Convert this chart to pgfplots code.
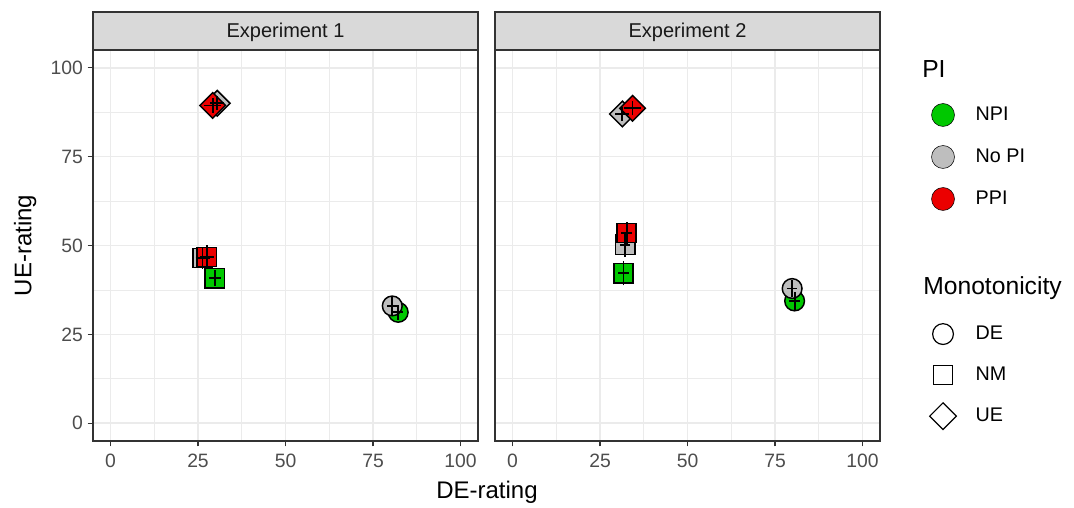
\documentclass[border=0pt]{standalone}
\usepackage{pgfplots}
\pgfplotsset{compat=1.18}
\usepackage{fontspec}
\setmainfont{Liberation Sans}
\definecolor{cNPI}{RGB}{0,200,0}
\definecolor{cNo}{RGB}{190,190,190}
\definecolor{cPPI}{RGB}{235,0,0}
\definecolor{grid92}{RGB}{235,235,235}
\definecolor{g20}{RGB}{51,51,51}
\definecolor{g30}{RGB}{77,77,77}
\definecolor{g85}{RGB}{217,217,217}

\pgfdeclareplotmark{rdiamond*}{%
  \pgfpathmoveto{\pgfqpoint{0pt}{\pgfplotmarksize}}%
  \pgfpathlineto{\pgfqpoint{\pgfplotmarksize}{0pt}}%
  \pgfpathlineto{\pgfqpoint{0pt}{-\pgfplotmarksize}}%
  \pgfpathlineto{\pgfqpoint{-\pgfplotmarksize}{0pt}}%
  \pgfpathclose\pgfusepathqfillstroke}
\pgfdeclareplotmark{rdiamond}{%
  \pgfpathmoveto{\pgfqpoint{0pt}{\pgfplotmarksize}}%
  \pgfpathlineto{\pgfqpoint{\pgfplotmarksize}{0pt}}%
  \pgfpathlineto{\pgfqpoint{0pt}{-\pgfplotmarksize}}%
  \pgfpathlineto{\pgfqpoint{-\pgfplotmarksize}{0pt}}%
  \pgfpathclose\pgfusepathqstroke}

\pgfplotsset{
  panel/.style={
    anchor=south west, scale only axis, width=288.75pt, height=293.25pt,
    xmin=-5, xmax=105, ymin=-5, ymax=105,
    xtick={0,25,50,75,100}, ytick={0,25,50,75,100},
    minor xtick={12.5,37.5,62.5,87.5}, minor ytick={12.5,37.5,62.5,87.5},
    grid=both,
    major grid style={draw=grid92, line width=1.1pt},
    minor grid style={draw=grid92, line width=0.55pt},
    axis line style={draw=g20, line width=0.8pt},
    tick align=outside, xtick pos=bottom, ytick pos=left,
    major tick length=4pt, minor tick length=0pt,
    tick style={draw=g20, line width=0.8pt},
    ticklabel style={font=\fontsize{14.5}{17}\selectfont, text=g30},
    xticklabel style={yshift=-2.5pt},
    /pgf/number format/assume math mode=true,
    unbounded coords=jump,
    clip marker paths=true,
  },
  ptDE/.style={only marks, mark=*, mark size=7.4pt, mark options={draw=black, line width=1.1pt, fill=#1}},
  ptNM/.style={only marks, mark=square*, mark size=7.2pt, mark options={draw=black, line width=1.1pt, fill=#1}},
  ptUE/.style={only marks, mark=rdiamond*, mark size=9.6pt, mark options={draw=black, line width=1.1pt, fill=#1}},
  cross/.style={black, line width=1.4pt, mark=none},
  legimg/.style={legend image code/.code={\path[draw=none, fill=none] (0pt,-#1) rectangle (34.5pt,#1); \draw[##1, only marks] plot coordinates {(12pt,0pt)};}},
  legstyle/.style={legend style={draw=none, fill=none, inner sep=0pt, outer sep=0pt, row sep=0pt,
      nodes={font=\fontsize{14.8}{17}\selectfont, inner sep=2pt}}, legend cell align=left},
}

\begin{document}
\begin{tikzpicture}
\useasboundingbox (0,0) rectangle (805.5pt,380.25pt);

% ---------- Experiment 1 ----------
\begin{axis}[panel, at={(69.75pt,49.5pt)}, name=ax1]
\addplot[ptUE=cNo]  coordinates {(30.5,90.0)};
\addplot[ptUE=cPPI] coordinates {(29.2,89.4)};
\addplot[ptNM=cNPI] coordinates {(29.8,40.8)};
\addplot[ptNM=cNo]  coordinates {(26.3,46.5)};
\addplot[ptNM=cPPI] coordinates {(27.5,46.8)};
\addplot[ptDE=cNPI] coordinates {(82.2,31.2)};
\addplot[ptDE=cNo]  coordinates {(80.5,33.0)};
% intervals: horizontal
\addplot[cross] coordinates {
(28.5,90.0) (32.5,90.0) (nan,nan)
(26.7,89.4) (31.7,89.4) (nan,nan)
(28.0,40.8) (31.6,40.8) (nan,nan)
(24.3,46.5) (28.3,46.5) (nan,nan)
(25.5,46.8) (29.5,46.8) (nan,nan)
(80.7,31.2) (83.7,31.2) (nan,nan)
(79.0,33.0) (82.0,33.0)
};
% intervals: vertical
\addplot[cross] coordinates {
(30.5,88.0) (30.5,92.0) (nan,nan)
(29.2,87.4) (29.2,91.4) (nan,nan)
(29.8,38.6) (29.8,43.0) (nan,nan)
(26.3,43.5) (26.3,49.5) (nan,nan)
(27.5,43.6) (27.5,50.0) (nan,nan)
(82.2,29.0) (82.2,33.4) (nan,nan)
(80.5,30.5) (80.5,35.5)
};
\end{axis}

% ---------- Experiment 2 ----------
\begin{axis}[panel, at={(371.25pt,49.5pt)}, name=ax2, yticklabels={}, y tick style={draw=none}]
\addplot[ptUE=cNo]  coordinates {(31.4,87.0)};
\addplot[ptUE=cPPI] coordinates {(34.3,88.6)};
\addplot[ptNM=cNPI] coordinates {(31.7,42.2)};
\addplot[ptNM=cNo]  coordinates {(32.2,50.2)};
\addplot[ptNM=cPPI] coordinates {(32.6,53.5)};
\addplot[ptDE=cNPI] coordinates {(80.6,34.4)};
\addplot[ptDE=cNo]  coordinates {(79.9,37.9)};
\addplot[cross] coordinates {
(29.4,87.0) (33.4,87.0) (nan,nan)
(31.8,88.6) (36.8,88.6) (nan,nan)
(30.2,42.2) (33.2,42.2) (nan,nan)
(30.7,50.2) (33.7,50.2) (nan,nan)
(31.1,53.5) (34.1,53.5) (nan,nan)
(79.1,34.4) (82.1,34.4) (nan,nan)
(78.4,37.9) (81.4,37.9)
};
\addplot[cross] coordinates {
(31.4,85.0) (31.4,89.0) (nan,nan)
(34.3,86.6) (34.3,90.6) (nan,nan)
(31.7,38.8) (31.7,45.6) (nan,nan)
(32.2,46.7) (32.2,53.7) (nan,nan)
(32.6,50.5) (32.6,56.5) (nan,nan)
(80.6,31.9) (80.6,36.9) (nan,nan)
(79.9,35.4) (79.9,40.4)
};
\end{axis}

% ---------- Legend: PI ----------
\begin{axis}[panel, at={(371.25pt,49.5pt)}, hide axis, grid=none, legimg=15.75pt, legstyle,
  legend style={at={(1.1221,0.8875)}, anchor=north west}]
\addlegendimage{only marks, mark=*, mark size=8.6pt, mark options={draw=none, fill=cNPI}}
\addlegendentry{NPI}
\addlegendimage{only marks, mark=*, mark size=8.6pt, mark options={draw=none, fill=cNo}}
\addlegendentry{No PI}
\addlegendimage{only marks, mark=*, mark size=8.6pt, mark options={draw=none, fill=cPPI}}
\addlegendentry{PPI}
\end{axis}

% ---------- Legend: Monotonicity ----------
\begin{axis}[panel, at={(371.25pt,49.5pt)}, hide axis, grid=none, legimg=15.4pt, legstyle,
  legend style={at={(1.1221,0.326)}, anchor=north west}]
\addlegendimage{only marks, mark=o, mark size=7.8pt, mark options={draw=black, line width=0.9pt}}
\addlegendentry{DE}
\addlegendimage{only marks, mark=square, mark size=7.2pt, mark options={draw=black, line width=0.9pt}}
\addlegendentry{NM}
\addlegendimage{only marks, mark=rdiamond, mark size=10pt, mark options={draw=black, line width=0.9pt}}
\addlegendentry{UE}
\end{axis}

% ---------- Strips ----------
\foreach \ax/\lab in {ax1/Experiment 1, ax2/Experiment 2}{
  \draw[fill=g85, draw=g20, line width=0.8pt] (\ax.north west) rectangle ([yshift=28.5pt]\ax.north east);
  \node[anchor=base, inner sep=0pt, font=\fontsize{15}{18}\selectfont, text=black!90] at ([yshift=9.3pt]\ax.north) {\lab};
}

% ---------- Titles ----------
\node[anchor=base, inner sep=0pt, font=\fontsize{18}{21}\selectfont] at (365.25pt,6.75pt) {DE-rating};
\node[anchor=base, rotate=90, inner sep=0pt, font=\fontsize{18}{21}\selectfont] at (23.5pt,196.1pt) {UE-rating};
\node[anchor=base west, inner sep=0pt, font=\fontsize{18.5}{21}\selectfont] at (691.5pt,321.75pt) {PI};
\node[anchor=base west, inner sep=0pt, font=\fontsize{18.5}{21}\selectfont] at (692.25pt,159pt) {Monotonicity};
\end{tikzpicture}
\end{document}
